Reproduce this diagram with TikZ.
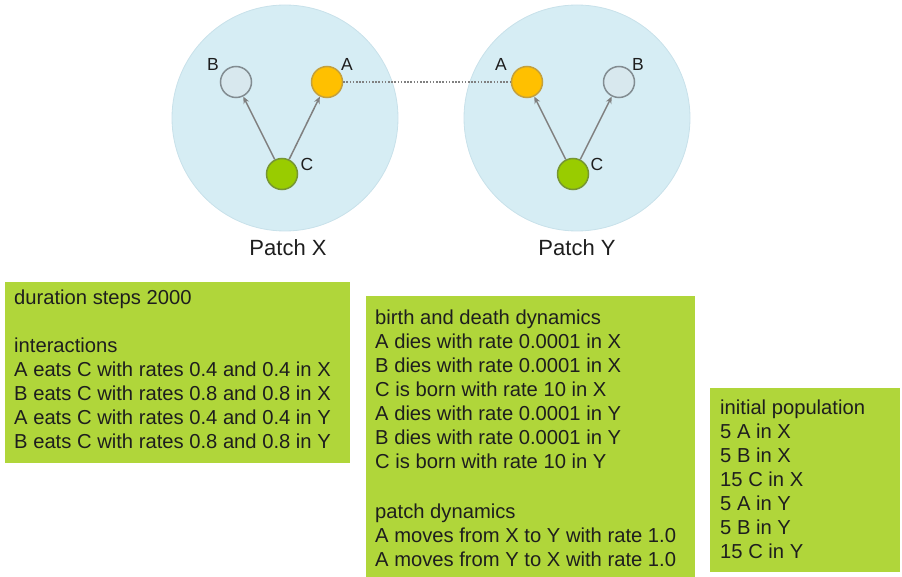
\documentclass[tikz,border=0pt]{standalone}
\usepackage{fontspec}
\setmainfont{Liberation Sans}
\usetikzlibrary{arrows.meta}
\definecolor{patchfill}{RGB}{214,237,244}
\definecolor{patchedge}{RGB}{200,225,234}
\definecolor{boxgreen}{RGB}{176,214,58}
\definecolor{afill}{RGB}{255,192,0}
\definecolor{aedge}{RGB}{196,160,60}
\definecolor{bfill}{RGB}{216,232,238}
\definecolor{bedge}{RGB}{130,140,145}
\definecolor{cfill}{RGB}{153,204,0}
\definecolor{cedge}{RGB}{118,150,50}
\definecolor{linkgray}{RGB}{128,128,128}
\definecolor{txt}{RGB}{30,30,30}
\tikzset{
  patch/.style={circle, fill=patchfill, draw=patchedge, line width=0.8pt, minimum size=226pt, inner sep=0pt},
  species/.style={circle, minimum size=31pt, inner sep=0pt, line width=1.5pt},
  spA/.style={species, fill=afill, draw=aedge},
  spB/.style={species, fill=bfill, draw=bedge},
  spC/.style={species, fill=cfill, draw=cedge},
  letter/.style={font=\fontsize{17.5}{20}\selectfont, text=txt, inner sep=0pt},
  patchlabel/.style={font=\fontsize{22}{26}\selectfont, text=txt, inner sep=0pt},
  eats/.style={draw=linkgray, line width=1.5pt, -{Stealth[length=7pt,width=6pt]}},
  migrate/.style={draw=linkgray, line width=1.6pt, dash pattern=on 1.6pt off 1.6pt},
  infobox/.style={anchor=north west, align=left, inner sep=0pt,
    font=\fontsize{20.2}{24}\selectfont, text=txt},
}
\begin{document}
\begin{tikzpicture}[x=1pt,y=-1pt]
\useasboundingbox (0,0) rectangle (902,577);

% patches
\node[patch] (px) at (285,118) {};
\node[patch] (py) at (577,118) {};
\node[patchlabel] (lx) at (288,248) {Patch X};
\node[patchlabel] (ly) at (577,248) {Patch Y};

% species in patch X
\node[spB] (bx) at (236,82) {};
\node[spA] (ax) at (327,82) {};
\node[spC] (cx) at (282,174) {};
\node[letter] (tbx) at (213,64) {B};
\node[letter] (tax) at (347,64) {A};
\node[letter] (tcx) at (307,164) {C};

% species in patch Y
\node[spA] (ay) at (527,82) {};
\node[spB] (by) at (619,82) {};
\node[spC] (cy) at (573,174) {};
\node[letter] (tay) at (501,64) {A};
\node[letter] (tby) at (638,64) {B};
\node[letter] (tcy) at (597,164) {C};

% predation links
\draw[eats] (cx) -- (bx);
\draw[eats] (cx) -- (ax);
\draw[eats] (cy) -- (ay);
\draw[eats] (cy) -- (by);

% migration of A between patches
\draw[migrate] (ax.east) -- (ay.west);

% parameter boxes
\fill[boxgreen] (5,282) rectangle (350,463);
\node[infobox] (b1) at (14,290) {duration steps 2000\\[24pt]
interactions\\
A eats C with rates 0.4 and 0.4 in X\\
B eats C with rates 0.8 and 0.8 in X\\
A eats C with rates 0.4 and 0.4 in Y\\
B eats C with rates 0.8 and 0.8 in Y};

\fill[boxgreen] (366,296) rectangle (695,577);
\node[infobox] (b2) at (375,310) {birth and death dynamics\\
A dies with rate 0.0001 in X\\
B dies with rate 0.0001 in X\\
C is born with rate 10 in X\\
A dies with rate 0.0001 in Y\\
B dies with rate 0.0001 in Y\\
C is born with rate 10 in Y\\[26pt]
patch dynamics\\
A moves from X to Y with rate 1.0\\
A moves from Y to X with rate 1.0};

\fill[boxgreen] (710,388) rectangle (900,572);
\node[infobox] (b3) at (720,400) {initial population\\
5 A in X\\
5 B in X\\
15 C in X\\
5 A in Y\\
5 B in Y\\
15 C in Y};
\end{tikzpicture}
\end{document}
